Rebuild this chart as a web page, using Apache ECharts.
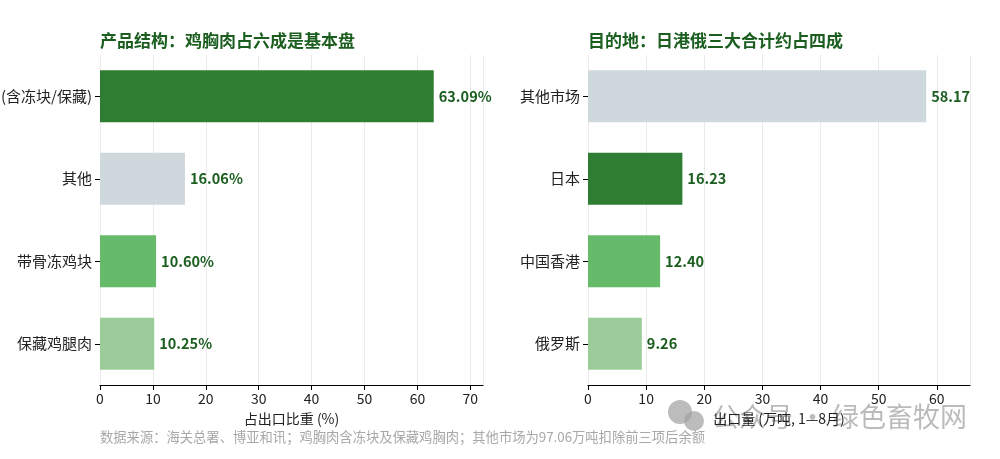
<!DOCTYPE html>
<html><head><meta charset="utf-8">
<script src="https://cdn.jsdelivr.net/npm/echarts@6/dist/echarts.min.js"></script>
<style>html,body{margin:0;padding:0;background:#fff}#c{width:1000px;height:459px}</style>
</head><body><div id="c"></div>
<script>
const productCats = ['鸡胸肉(含冻块/保藏)', '其他', '带骨冻鸡块', '保藏鸡腿肉'];
const productShare = [63.09, 16.06, 10.60, 10.25];
const destCats = ['其他市场', '日本', '中国香港', '俄罗斯'];
const destVolume = [58.17, 16.23, 12.40, 9.26];
const xTicksLeft = [0, 10, 20, 30, 40, 50, 60, 70];
const xTicksRight = [0, 10, 20, 30, 40, 50, 60];

const productColors = ['#2e7d32', '#cfd8dc', '#66bb6a', '#9ccc9a'];
const destColors = ['#cfd8dc', '#2e7d32', '#66bb6a', '#9ccc9a'];
const FONT = '"Noto Sans CJK SC", "Noto Sans", sans-serif';

const chart = echarts.init(document.getElementById('c'), null, {renderer: 'canvas'});
function xAxis(gi, max, name) {
  return {
    gridIndex: gi, type: 'value', min: 0, max: max, interval: 10,
    name: name, nameLocation: 'middle', nameGap: 27,
    nameTextStyle: {color: '#222', fontSize: 14, fontFamily: FONT},
    axisLine: {show: true, lineStyle: {color: '#000', width: 1.2}},
    axisTick: {show: true, length: 5, lineStyle: {color: '#000'}},
    axisLabel: {color: '#222', fontSize: 14, margin: 7, fontFamily: FONT,
      showMaxLabel: false},
    splitLine: {show: true, lineStyle: {color: '#ebebeb', width: 1}}
  };
}
function yAxis(gi, cats) {
  return {
    gridIndex: gi, type: 'category', data: cats, inverse: true,
    axisLine: {show: false},
    axisTick: {show: true, alignWithLabel: true, length: 5, lineStyle: {color: '#000'}},
    axisLabel: {color: '#222', fontSize: 15, margin: 8, fontFamily: FONT}
  };
}
chart.setOption({
  animation: false,
  backgroundColor: '#fff',
  title: [
    {text: '产品结构：鸡胸肉占六成是基本盘', left: 100, top: 32, padding: 0,
      textStyle: {color: '#1b5e20', fontSize: 17, fontWeight: 'bold', fontFamily: FONT}},
    {text: '目的地：日港俄三大合计约占四成', left: 588, top: 32, padding: 0,
      textStyle: {color: '#1b5e20', fontSize: 17, fontWeight: 'bold', fontFamily: FONT}}
  ],
  grid: [
    {left: 100, width: 383, top: 55, height: 330, containLabel: false, outerBoundsMode: 'none'},
    {left: 588, width: 382, top: 55, height: 330, containLabel: false, outerBoundsMode: 'none'}
  ],
  xAxis: [xAxis(0, 72.4, '占出口比重 (%)'), xAxis(1, 65.7, '出口量 (万吨, 1—8月)')],
  yAxis: [yAxis(0, productCats), yAxis(1, destCats)],
  series: [
    {type: 'bar', xAxisIndex: 0, yAxisIndex: 0, barWidth: 52,
      data: productShare.map((v, i) => ({value: v, itemStyle: {color: productColors[i]}})),
      label: {show: true, position: 'right', distance: 5, color: '#1b5e20', fontSize: 14.5,
        fontWeight: 'bold', fontFamily: FONT, formatter: p => p.value.toFixed(2) + '%'}},
    {type: 'bar', xAxisIndex: 1, yAxisIndex: 1, barWidth: 52,
      data: destVolume.map((v, i) => ({value: v, itemStyle: {color: destColors[i]}})),
      label: {show: true, position: 'right', distance: 5, color: '#1b5e20', fontSize: 14.5,
        fontWeight: 'bold', fontFamily: FONT, formatter: p => p.value.toFixed(2)}}
  ],
  graphic: [
    {type: 'text', left: 100, top: 430,
      style: {text: '数据来源：海关总署、博亚和讯；鸡胸肉含冻块及保藏鸡胸肉；其他市场为97.06万吨扣除前三项后余额',
        fill: '#a8a8a8', fontSize: 13.3, fontFamily: FONT}},
    {type: 'circle', shape: {cx: 680, cy: 412, r: 12}, style: {fill: 'rgba(160,160,160,0.7)'}},
    {type: 'circle', shape: {cx: 694, cy: 421, r: 10}, style: {fill: 'rgba(160,160,160,0.7)'}},
    {type: 'text', left: 712, top: 403,
      style: {text: '公众号 · 绿色畜牧网', fill: 'rgba(150,150,150,0.65)', fontSize: 27, fontFamily: FONT}}
  ]
});
</script></body></html>
